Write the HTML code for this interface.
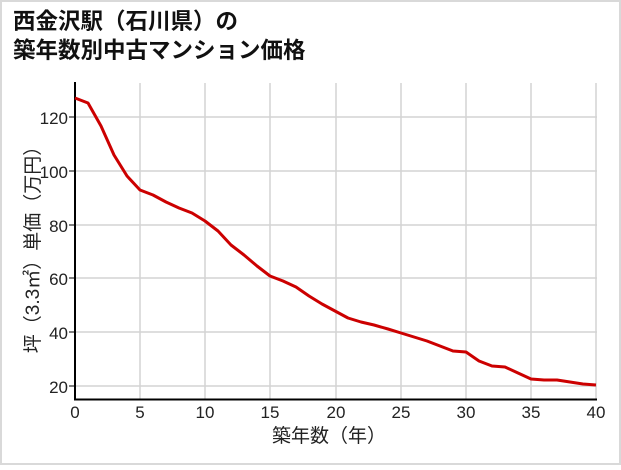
<!DOCTYPE html>
<html><head><meta charset="utf-8"><style>
html,body{margin:0;padding:0;background:#fff;}
body{width:621px;height:465px;overflow:hidden;}
svg text{font-family:"Liberation Sans","Noto Sans CJK JP",sans-serif;}
</style></head><body>
<svg width="621" height="465" viewBox="0 0 621 465" xmlns="http://www.w3.org/2000/svg">
<rect x="1" y="1" width="619" height="463" fill="#fff" stroke="#d9d9d9" stroke-width="2"/>
<text x="13" y="29" font-size="22.5" font-weight="bold" fill="#111">西金沢駅（石川県）の</text>
<text x="13" y="58" font-size="22.5" font-weight="bold" fill="#111">築年数別中古マンション価格</text>
<g stroke="#d3d3d3" stroke-width="1.5">
<line x1="75" y1="117" x2="597" y2="117"/>
<line x1="75" y1="171" x2="597" y2="171"/>
<line x1="75" y1="225" x2="597" y2="225"/>
<line x1="75" y1="278" x2="597" y2="278"/>
<line x1="75" y1="332" x2="597" y2="332"/>
<line x1="75" y1="386" x2="597" y2="386"/>
<line x1="140" y1="83" x2="140" y2="399"/>
<line x1="205" y1="83" x2="205" y2="399"/>
<line x1="270" y1="83" x2="270" y2="399"/>
<line x1="336" y1="83" x2="336" y2="399"/>
<line x1="401" y1="83" x2="401" y2="399"/>
<line x1="466" y1="83" x2="466" y2="399"/>
<line x1="531" y1="83" x2="531" y2="399"/>
<line x1="596" y1="83" x2="596" y2="399"/>
</g>
<g stroke="#000" stroke-width="1">
<line x1="69" y1="117" x2="75" y2="117"/><line x1="69" y1="171" x2="75" y2="171"/>
<line x1="69" y1="225" x2="75" y2="225"/><line x1="69" y1="278" x2="75" y2="278"/>
<line x1="69" y1="332" x2="75" y2="332"/><line x1="69" y1="386" x2="75" y2="386"/>
</g>
<line x1="75" y1="82" x2="75" y2="400" stroke="#000" stroke-width="2"/>
<line x1="74" y1="399.5" x2="597" y2="399.5" stroke="#000" stroke-width="2"/>
<polyline fill="none" stroke="#cc0000" stroke-width="3" stroke-linejoin="round" points="
75,98 88,103 101,126 114,155 127,176 140,190 153,195 166,202 179,208 192,213 205,221 218,231 231,245 244,255 257,266 270,276 283,281 296,287 309,296 322,304 335,311 348,318 361,322 374,325 388,329 401,333 414,337 427,341 440,346 453,351 466,352 479,361 492,366 505,367 518,373 531,379 544,380 557,380 570,382 583,384 596,385"/>
<g font-size="17" fill="#222" text-anchor="end">
<text x="68" y="124">120</text><text x="68" y="178">100</text>
<text x="68" y="232">80</text><text x="68" y="285">60</text>
<text x="68" y="339">40</text><text x="68" y="393">20</text>
</g>
<g font-size="17" fill="#222" text-anchor="middle">
<text x="75" y="418">0</text><text x="140" y="418">5</text><text x="205" y="418">10</text>
<text x="270" y="418">15</text><text x="336" y="418">20</text><text x="401" y="418">25</text>
<text x="466" y="418">30</text><text x="531" y="418">35</text><text x="596" y="418">40</text>
</g>
<text x="329" y="442" font-size="19" fill="#222" text-anchor="middle">築年数（年）</text>
<text transform="translate(39,245) rotate(-90)" font-size="19" fill="#222" text-anchor="middle">坪（3.3㎡）単価（万円）</text>
</svg>
</body></html>
